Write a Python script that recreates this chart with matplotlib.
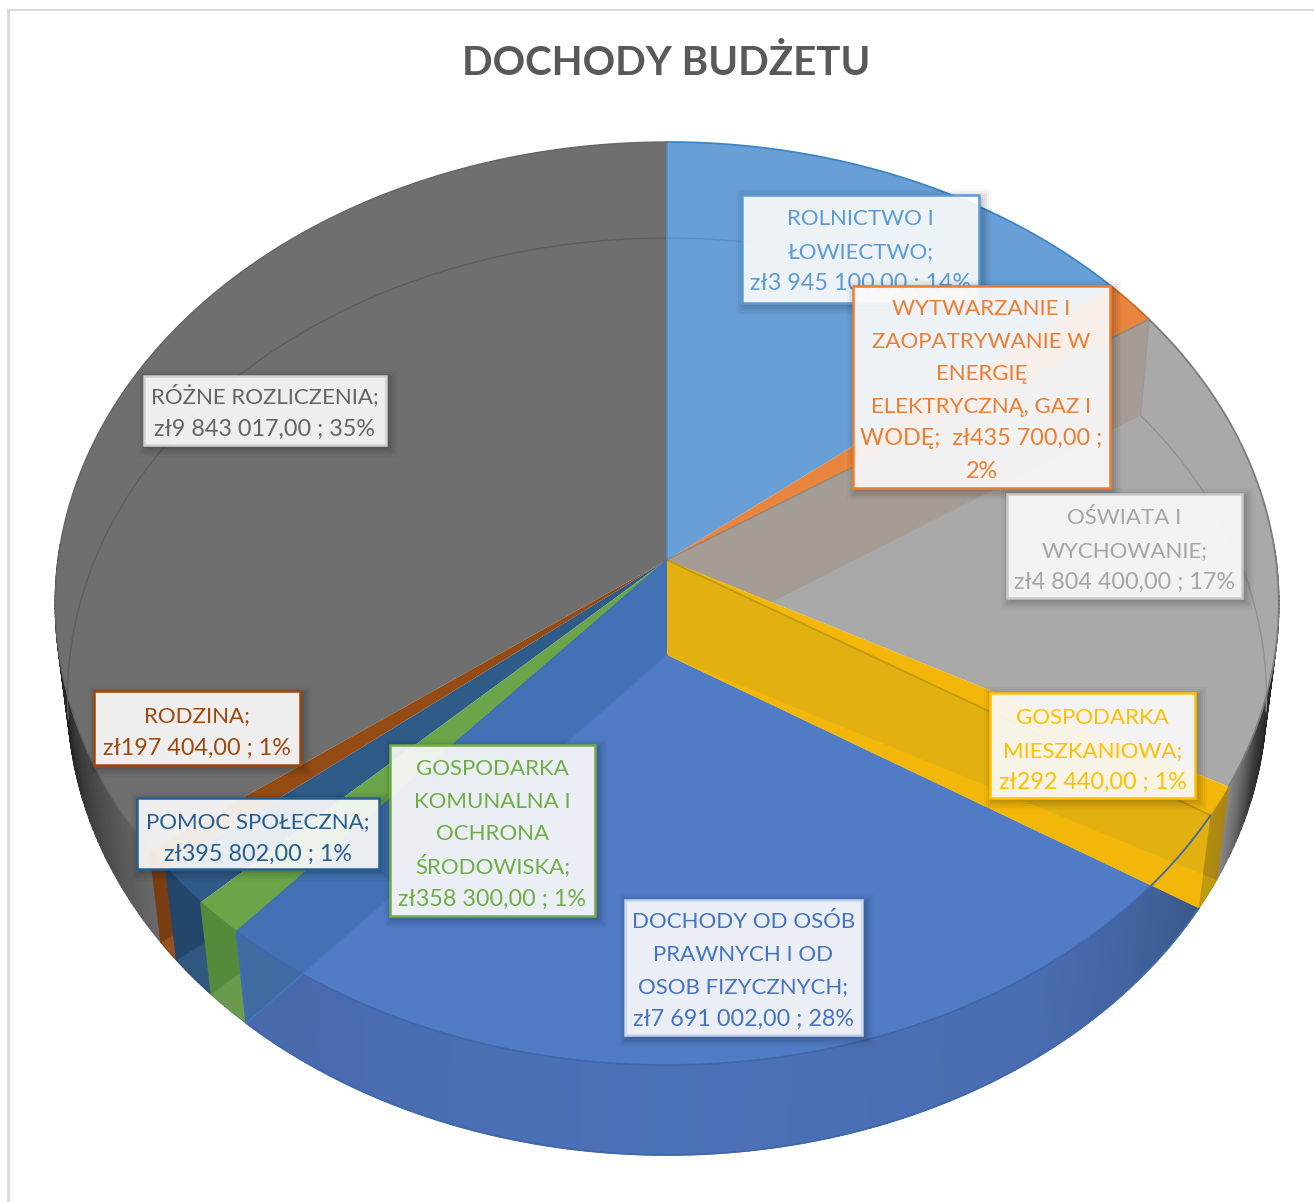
import numpy as np
import matplotlib
matplotlib.use("Agg")
import matplotlib.pyplot as plt
from matplotlib.patches import Polygon, Rectangle
from matplotlib.collections import PolyCollection
from matplotlib.colors import to_rgb

TITLE = "DOCHODY BUDŻETU"
categories = ["ROLNICTWO I ŁOWIECTWO", "WYTWARZANIE I ZAOPATRYWANIE W ENERGIĘ ELEKTRYCZNĄ, GAZ I WODĘ",
              "OŚWIATA I WYCHOWANIE", "GOSPODARKA MIESZKANIOWA",
              "DOCHODY OD OSÓB PRAWNYCH I OD OSOB FIZYCZNYCH",
              "GOSPODARKA KOMUNALNA I OCHRONA ŚRODOWISKA", "POMOC SPOŁECZNA", "RODZINA", "RÓŻNE ROZLICZENIA"]
values = [3945100, 435700, 4804400, 292440, 7691002, 358300, 395802, 197404, 9843017]
label_lines = [
    ["ROLNICTWO I", "ŁOWIECTWO;", "zł3 945 100,00 ; 14%"],
    ["WYTWARZANIE I", "ZAOPATRYWANIE W", "ENERGIĘ", "ELEKTRYCZNĄ, GAZ I", "WODĘ;  zł435 700,00 ;", "2%"],
    ["OŚWIATA I", "WYCHOWANIE;", "zł4 804 400,00 ; 17%"],
    ["GOSPODARKA", "MIESZKANIOWA;", "zł292 440,00 ; 1%"],
    ["DOCHODY OD OSÓB", "PRAWNYCH I OD", "OSOB FIZYCZNYCH;", "zł7 691 002,00 ; 28%"],
    ["GOSPODARKA", "KOMUNALNA I", "OCHRONA", "ŚRODOWISKA;", "zł358 300,00 ; 1%"],
    ["POMOC SPOŁECZNA;", "zł395 802,00 ; 1%"],
    ["RODZINA;", "zł197 404,00 ; 1%"],
    ["RÓŻNE ROZLICZENIA;", "zł9 843 017,00 ; 35%"],
]
# box: left, top, right, bottom in pixels
label_boxes = [(742, 195, 979, 303), (853, 286, 1110, 488), (1007, 494, 1242, 598), (990, 693, 1195, 798),
               (625, 900, 862, 1035), (390, 745, 595, 916), (137, 798, 379, 869), (94, 691, 300, 765), (144, 376, 386, 445)]
label_first_y = [216, 306, 515, 715, 919, 766, 819, 713, 394]
text_colors = ["#5B9BD5", "#ED7D31", "#A5A5A5", "#FFC000", "#4472C4", "#70AD47", "#255E91", "#9E480E", "#636363"]
edge_colors = ["#5B9BD5", "#ED7D31", "#C9C9C9", "#FFC000", "#C5D3EC", "#70AD47", "#255E91", "#9E480E", "#D0D0D0"]
label_order = [0, 1, 2, 3, 4, 5, 7, 6, 8]

plt.rcParams['font.family'] = ['Lato', 'DejaVu Sans']
W, H = 1314, 1202
fig = plt.figure(figsize=(W / 100, H / 100), dpi=100)
ax = fig.add_axes([0, 0, 1, 1])
ax.set_xlim(0, W)
ax.set_ylim(H, 0)
ax.axis("off")

CX = 667
TOP = dict(cy=560, a=609.0, b=457.4, k=0.0943)
BOT = dict(cy=655, a=597.0, b=454.7, k=0.0905)


def proj(theta, g):
    t = np.radians(theta)
    u, v = np.sin(t), np.cos(t)
    d = 1 + g['k'] * v
    return np.column_stack([CX + g['a'] * u / d, g['cy'] - g['b'] * v / d])


def arc(a, b, g, n=None):
    n = n or max(2, int(abs(b - a) * 2) + 2)
    return proj(np.linspace(a, b, n), g)


ct = np.array([[CX, TOP['cy']]], float)
cb = np.array([[CX, BOT['cy']]], float)

cum = np.concatenate([[0], np.cumsum(values)]) / np.sum(values) * 360
ang = list(zip(cum[:-1], cum[1:]))


def poly(pts, color, z, clip=None, **kw):
    p = Polygon(pts, closed=True, facecolor=color, edgecolor=kw.pop('edge', 'none'), lw=kw.pop('lw', 0), zorder=z, **kw)
    ax.add_patch(p)
    if clip is not None:
        p.set_clip_path(clip)
    return p


def hidden(pts):
    p = Polygon(pts, closed=True, transform=ax.transData, facecolor='none', edgecolor='none')
    ax.add_patch(p)
    return p


def line(pts, color, lw, z, alpha=1):
    ax.plot(pts[:, 0], pts[:, 1], color=color, lw=lw, zorder=z, alpha=alpha, solid_capstyle='round')


def strip(a, b, stops, z):
    """wall between the two rims, colour graded along the angle"""
    th = np.linspace(a, b, int(abs(b - a) * 2) + 2)
    t, bo = proj(th, TOP), proj(th, BOT)
    quads = [[t[i], t[i + 1], bo[i + 1], bo[i]] for i in range(len(th) - 1)]
    xs = [s[0] for s in stops]
    rgb = np.array([to_rgb(s[1]) for s in stops])
    mid = (th[:-1] + th[1:]) / 2
    cols = np.column_stack([np.interp(mid, xs, rgb[:, i]) for i in range(3)])
    pc = PolyCollection(quads, facecolors=cols, edgecolors=cols, linewidths=1.0, zorder=z)
    ax.add_collection(pc)


def top_face(a, b):
    return np.vstack([ct, arc(a, b, TOP)])


def bot_face(a, b):
    return np.vstack([cb, arc(a, b, BOT)])


def cut(a):
    return np.vstack([ct, proj([a], TOP), proj([a], BOT), cb])


# frame
ax.plot([8, 8], [10, H], color="#D9D9D9", lw=2, zorder=0)
ax.plot([8, W], [10, 10], color="#D9D9D9", lw=1.5, zorder=0)

a_rol, a_wyt, a_osw, a_gos, a_doc, a_kom, a_pom, a_rod, a_roz = ang

# outer walls at both sides
strip(88, a_osw[1], [(88, "#2a2a2a"), (103, "#242424"), (110, "#3a3a3a"), (115, "#6c6c6c"), (119, "#8e8e8e")], 1)
strip(a_roz[0], 272, [(a_roz[0], "#6a6a6a"), (240, "#585858"), (250, "#3c3c3c"), (258, "#262626"), (272, "#222222")], 1)

# back faces
poly(top_face(*a_rol), "#689FD6", 2)
poly(top_face(*a_wyt), "#E8853F", 2)
poly(top_face(*a_osw), "#A9A9A9", 2)
poly(top_face(*a_roz), "#6F6F6F", 2)
face_osw = hidden(top_face(*a_osw))
poly(cut(a_osw[0]), "#A59C96", 3, clip=face_osw)

# rims of the far bottom circle seen through the faces
line(arc(0, a_rol[1], BOT), "#5C8FC6", 1, 4)
line(arc(a_wyt[1], 97, BOT), "#929292", 1, 4)
line(arc(262, 360, BOT), "#5E5E5E", 1, 4)
line(np.vstack([proj([a_wyt[1]], TOP), proj([a_wyt[1]], BOT)]), "#9A9A9A", 1, 4)
line(np.vstack([proj([0], TOP), ct]), "#4F90CC", 1.2, 4)
line(arc(*a_rol, TOP), "#3D85C6", 1.3, 5)
line(arc(*a_wyt, TOP), "#C96A28", 1.3, 5)
line(arc(a_osw[0], a_osw[1], TOP), "#7C7C7C", 1.3, 5)
line(arc(a_roz[0], 360, TOP), "#666666", 1, 5)
line(np.vstack([ct, proj([a_wyt[1]], TOP)]), "#8E8880", 1, 5)

# thin slices: rodzina, pomoc, komunalna
thin = [(a_rod, "#944B14", "#7A3D12", "#96511F"),
        (a_pom, "#2E5B88", "#24466B", "#30587F"),
        (a_kom, "#6BA54A", "#558A3C", "#6A9A4E")]
for i, (rng, c_top, c_wall, c_low) in enumerate(thin):
    z = 6 + i * 0.1
    poly(top_face(*rng), c_top, z)
    strip(rng[0], rng[1], [(rng[0], c_wall), (rng[1], c_wall)], z)
    w = hidden(bot_face(*rng))
    th = np.linspace(rng[0], rng[1], 30)
    wall = np.vstack([proj(th, TOP), proj(th[::-1], BOT)])
    poly(wall, c_low, z + 0.01, clip=w)

# dochody: bottom face, front wall, cut wall
z = 7
doc_face = hidden(top_face(*a_doc))
poly(bot_face(*a_doc), "#507BC5", z)
strip(a_doc[0], a_doc[1], [(a_doc[0], "#395787"), (130, "#3F5F98"), (145, "#4A6CB0"), (180, "#4B71B8"), (215, "#4A6AAE"), (a_doc[1], "#4A6AAE")], z + 0.01)
poly(bot_face(*a_doc), "#507BC5", z + 0.011, clip=doc_face)
poly(cut(a_doc[1]), "#3F6CA3", z + 0.02)
poly(cut(a_doc[1]), "#4272B5", z + 0.03, clip=doc_face)

# gospodarka mieszkaniowa
z = 8
strip(a_gos[0], a_gos[1], [(a_gos[0], "#A98612"), (a_gos[1], "#B08C12")], z)
w = hidden(bot_face(*a_gos))
th = np.linspace(a_gos[0], a_gos[1], 20)
poly(np.vstack([proj(th, TOP), proj(th[::-1], BOT)]), "#C09A10", z + 0.01, clip=w)
poly(cut(a_gos[1]), "#E2B010", z + 0.02)
poly(top_face(*a_gos), "#F3B70A", z + 0.03)
poly(bot_face(*a_gos), "#F3B70A", z + 0.03, clip=hidden(cut(a_gos[1])))
line(np.vstack([ct, proj([a_gos[1]], TOP)]), "#C09A10", 1.3, 8.1)

# rim lines in front
line(arc(*a_doc, TOP), "#3F68AC", 1.3, 9)
line(arc(*a_doc, BOT), "#3F68AC", 1.3, 9)
line(np.vstack([proj([a_doc[1]], TOP), proj([a_doc[1]], BOT)]), "#3E6DB4", 1.2, 9)
line(np.vstack([ct, proj([a_doc[1]], TOP)]), "#3E6DB4", 1, 9)
line(np.vstack([cb, proj([a_doc[1]], BOT)]), "#4A78BE", 1, 9)

# title
ax.text(666, 75, TITLE, ha='center', va='baseline', fontsize=29, fontweight='bold', color="#595959", zorder=20)

# labels
LINE = 32.6
for n, idx in enumerate(label_order):
    l, t, r, b = label_boxes[idx]
    z = 21 + n
    for grow, al in [(9, .035), (7, .05), (5, .06), (3, .07), (1, .08)]:
        ax.add_patch(Rectangle((l + 3 - grow, t + 3 - grow), r - l + 2 * grow, b - t + 2 * grow, facecolor='k', edgecolor='none',
                               alpha=al * 0.7, zorder=z))
    ax.add_patch(Rectangle((l, t), r - l, b - t, facecolor=(1, 1, 1, 0.9), edgecolor=edge_colors[idx], lw=1.8, zorder=z + 0.1))
    cx = (l + r) / 2
    for k, s in enumerate(label_lines[idx]):
        size = 16.8 if any(ch.isdigit() for ch in s) else 16
        ax.text(cx, label_first_y[idx] + k * LINE + 9, s, ha='center', va='baseline', fontsize=size, color=text_colors[idx], zorder=z + 0.2)

fig.savefig("out.png", dpi=100)
